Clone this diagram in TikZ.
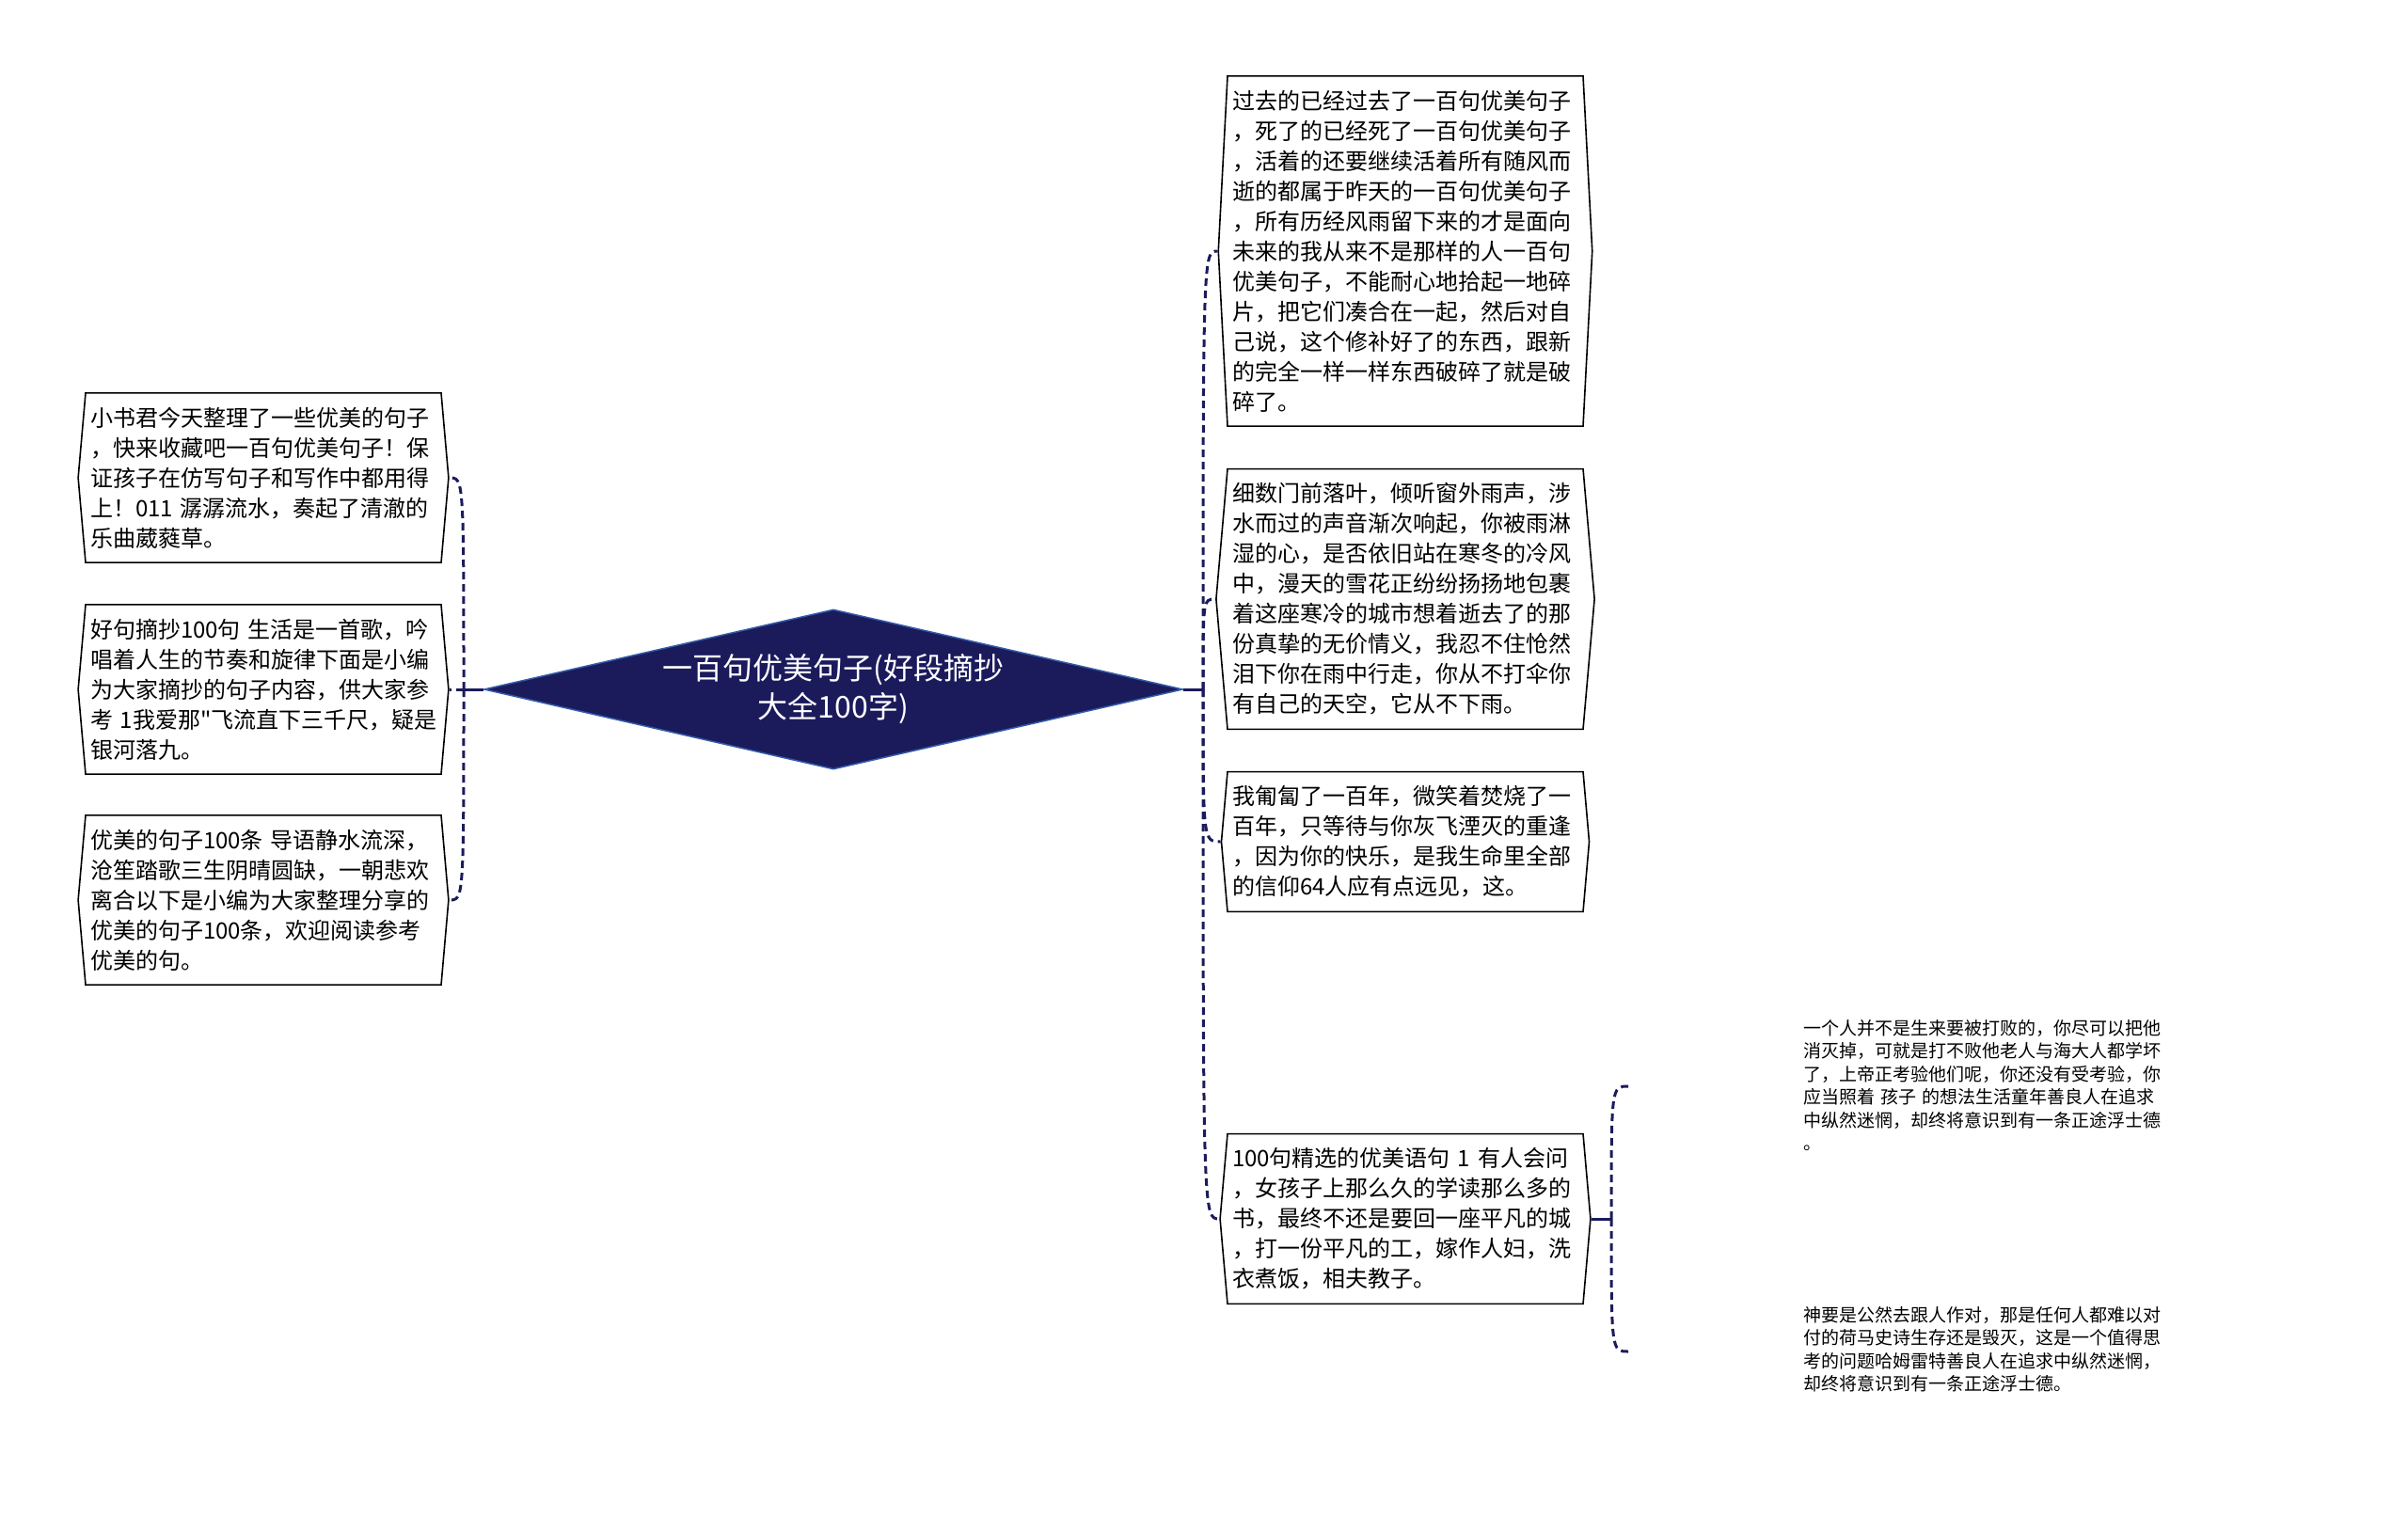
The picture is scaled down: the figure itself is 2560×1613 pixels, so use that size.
\documentclass[tikz,border=0pt]{standalone}
\usepackage{fontspec}
\setmainfont{Noto Sans CJK SC}
\newfontfamily\plainfont{Noto Sans CJK SC}
\usepackage{tikz}
\usetikzlibrary{shapes.geometric,shapes.symbols}
\definecolor{navy}{RGB}{27,27,92}
\definecolor{rimblue}{RGB}{52,92,170}

\begin{document}
\begin{tikzpicture}[
      x = 1pt, y = -1pt,
      topic/.style = {shape = diamond, aspect = 4.37, minimum width = 743pt, minimum height = 170pt, inner sep = 0pt, fill = navy, draw = rimblue, line width = 1.5pt, text = white, align = center, font = \fontsize{32}{41}\selectfont},
      leaf/.style = {shape = signal, signal to = west and east, signal pointer angle = 170, draw, line width = 1.6pt, text width = 368pt, inner xsep = 5pt, inner ysep = 15pt, align = left, font = \fontsize{24}{32}\selectfont},
      note/.style = {text width = 400pt, inner sep = 0pt, align = left, font = \fontsize{19}{24.5}\selectfont},
      link/.style = {draw = navy, line width = 3pt},
      dlink/.style = {link, dash pattern = on 8pt off 5pt}
      ]
      \useasboundingbox (0,0) rectangle (2560,1613);

      \node[topic] (root) at (886,733) {一百句优美句子(好段摘抄\\大全100字)};

      % left side
      \node[leaf] (l1) at (280,508) {小书君今天整理了一些优美的句子\\，快来收藏吧一百句优美句子！保\\证孩子在仿写句子和写作中都用得\\上！011 潺潺流水，奏起了清澈的\\乐曲葳蕤草。};
      \node[leaf] (l2) at (280,733) {好句摘抄100句 生活是一首歌，吟\\唱着人生的节奏和旋律下面是小编\\为大家摘抄的句子内容，供大家参\\考 1我爱那{\plainfont"}飞流直下三千尺，疑是\\银河落九。};
      \node[leaf] (l3) at (280,957) {优美的句子100条 导语静水流深，\\沧笙踏歌三生阴晴圆缺，一朝悲欢\\离合以下是小编为大家整理分享的\\优美的句子100条，欢迎阅读参考\\优美的句。};

      % right side
      \node[leaf, signal pointer angle = 174] (r1) at (1494,267) {过去的已经过去了一百句优美句子\\，死了的已经死了一百句优美句子\\，活着的还要继续活着所有随风而\\逝的都属于昨天的一百句优美句子\\，所有历经风雨留下来的才是面向\\未来的我从来不是那样的人一百句\\优美句子，不能耐心地拾起一地碎\\片，把它们凑合在一起，然后对自\\己说，这个修补好了的东西，跟新\\的完全一样一样东西破碎了就是破\\碎了。};
      \node[leaf] (r2) at (1494,637) {细数门前落叶，倾听窗外雨声，涉\\水而过的声音渐次响起，你被雨淋\\湿的心，是否依旧站在寒冬的冷风\\中，漫天的雪花正纷纷扬扬地包裹\\着这座寒冷的城市想着逝去了的那\\份真挚的无价情义，我忍不住怆然\\泪下你在雨中行走，你从不打伞你\\有自己的天空，它从不下雨。};
      \node[leaf] (r3) at (1494,895) {我匍匐了一百年，微笑着焚烧了一\\百年，只等待与你灰飞湮灭的重逢\\，因为你的快乐，是我生命里全部\\的信仰64人应有点远见，这。};
      \node[leaf] (r4) at (1494,1296) {100句精选的优美语句 1 有人会问\\，女孩子上那么久的学读那么多的\\书，最终不还是要回一座平凡的城\\，打一份平凡的工，嫁作人妇，洗\\衣煮饭，相夫教子。};

      \node[note, anchor = north west] (t1) at (1917,1084) {一个人并不是生来要被打败的，你尽可以把他\\消灭掉，可就是打不败他老人与海大人都学坏\\了，上帝正考验他们呢，你还没有受考验，你\\应当照着 孩子 的想法生活童年善良人在追求\\中纵然迷惘，却终将意识到有一条正途浮士德\\。};
      \node[note, anchor = north west] (t2) at (1917,1389) {神要是公然去跟人作对，那是任何人都难以对\\付的荷马史诗生存还是毁灭，这是一个值得思\\考的问题哈姆雷特善良人在追求中纵然迷惘，\\却终将意识到有一条正途浮士德。};

      \coordinate (jl) at (493,733);
      \coordinate (jr) at (1279,733);
      \coordinate (jt) at (1713,1296);
      \coordinate (t1in) at (1731,1155);
      \coordinate (t2in) at (1731,1437);

      \draw[link] (root.west) -- (jl);
      \draw[link] (root.east) -- (jr);
      \foreach \leaf in {l1,l2,l3}
        \draw[dlink] (jl) .. controls (jl |- \leaf.east) .. (\leaf.east);
      \foreach \leaf in {r1,r2,r3,r4}
        \draw[dlink] (jr) .. controls (jr |- \leaf.west) .. (\leaf.west);
      \draw[link] (r4.east) -- (jt);
      \foreach \tip in {t1in,t2in}
        \draw[dlink] (jt) .. controls (jt |- \tip) .. (\tip);
\end{tikzpicture}
\end{document}
